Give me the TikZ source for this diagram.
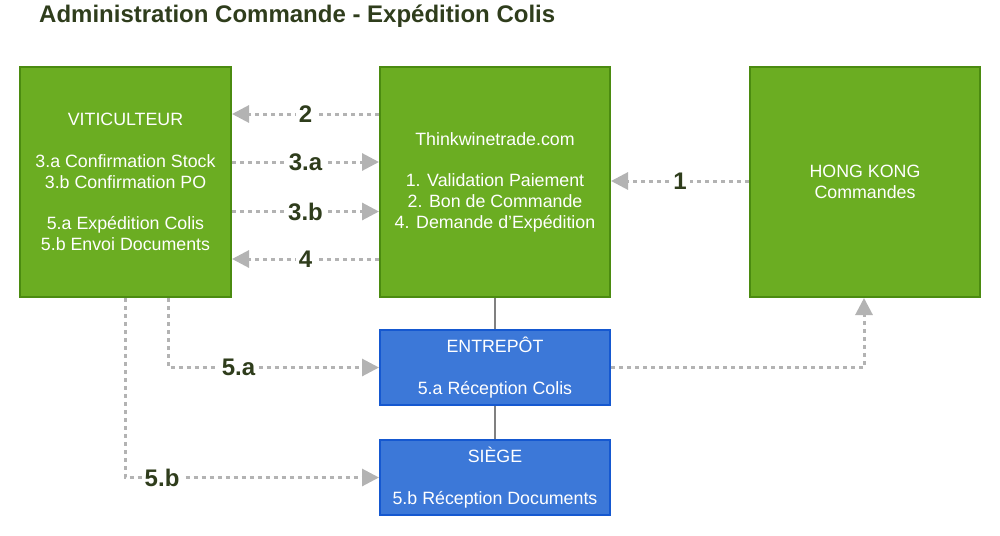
\documentclass[tikz,border=0pt]{standalone}
\usepackage{fontspec}
\setmainfont{Liberation Sans}
\usetikzlibrary{arrows.meta}
\definecolor{gfill}{HTML}{6BAD22}
\definecolor{gline}{HTML}{4B8B10}
\definecolor{bfill}{HTML}{3C78D8}
\definecolor{bline}{HTML}{1558D0}
\definecolor{lbl}{HTML}{2F3D1C}
\definecolor{dotc}{HTML}{B3B3B3}
\definecolor{solidc}{HTML}{808080}
\begin{document}
\begin{tikzpicture}[x=1pt,y=-1pt,
  boxtext/.style={text=white,align=center,inner sep=0pt,line width=2pt,
    font=\fontsize{17.8}{20.8}\selectfont},
  greenbox/.style={boxtext,draw=gline,fill=gfill,minimum width=230pt,minimum height=230pt},
  bluebox/.style={boxtext,draw=bline,fill=bfill,minimum width=230pt,minimum height=75pt},
  flow/.style={draw=dotc,line width=3pt,dash pattern=on 4pt off 4pt,
    -{Triangle[length=17pt,width=17pt]}},
  num/.style={fill=white,text=lbl,font=\bfseries\fontsize{24}{28}\selectfont,inner sep=3pt},
  link/.style={draw=solidc,line width=1.5pt}]
\useasboundingbox (0,0) rectangle (1000,535);
\node[anchor=base west,text=lbl,font=\bfseries\fontsize{24}{28}\selectfont,inner sep=0pt]
  (title) at (39,23) {Administration Commande - Expédition Colis};
\node[greenbox,minimum width=211pt] (vit) at (125.5,182)
  {VITICULTEUR\\~\\3.a Confirmation Stock\\3.b Confirmation PO\\~\\5.a Expédition Colis\\5.b Envoi Documents};
\node[greenbox] (twt) at (495,182)
  {Thinkwinetrade.com\\~\\1. Validation Paiement\\2. Bon de Commande\\4. Demande d'Expédition};
\node[greenbox] (hk) at (865,182) {HONG KONG\\Commandes};
\node[bluebox] (ent) at (495,367.5) {ENTREPÔT\\~\\5.a Réception Colis};
\node[bluebox] (sie) at (495,477.5) {SIÈGE\\~\\5.b Réception Documents};
\draw[link] (twt.south) -- (ent.north);
\draw[link] (ent.south) -- (sie.north);
\draw[flow] ([yshift=68pt]twt.west) -- node[num]{2} ([yshift=68pt]vit.east);
\draw[flow] ([yshift=20pt]vit.east) -- node[num]{3.a} ([yshift=20pt]twt.west);
\draw[flow] ([yshift=-29.5pt]vit.east) -- node[num]{3.b} ([yshift=-29.5pt]twt.west);
\draw[flow] ([yshift=-77pt]twt.west) -- node[num]{4} ([yshift=-77pt]vit.east);
\draw[flow] ([yshift=1pt]hk.west) -- node[num]{1} ([yshift=1pt]twt.east);
\draw[flow] ([xshift=42.5pt]vit.south) |- node[num,pos=0.667]{5.a} (ent.west);
\draw[flow] ([xshift=-0.5pt]vit.south) |- node[num,pos=0.573]{5.b} (sie.west);
\draw[flow] (ent.east) -| ([xshift=-1pt]hk.south);
\end{tikzpicture}
\end{document}
